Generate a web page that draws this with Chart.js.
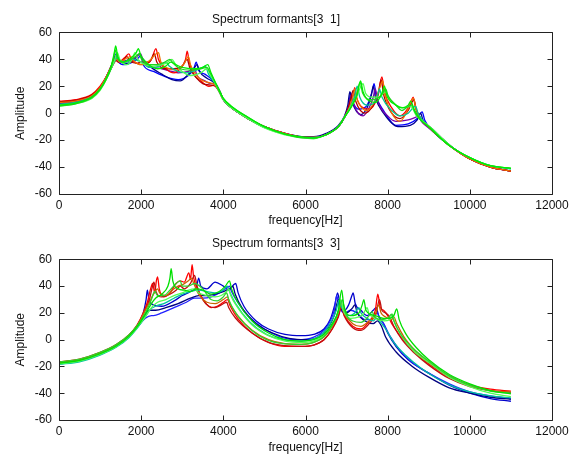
<!DOCTYPE html>
<html>
<head>
<meta charset="utf-8">
<script src="https://cdn.jsdelivr.net/npm/chart.js@4/dist/chart.umd.min.js"></script>
<style>
html,body{margin:0;padding:0;background:#fff;}
.box{position:absolute;left:0;width:577px;}
</style>
</head>
<body>
<div class="box" style="top:0;height:229px"><canvas id="c1" width="577" height="229"></canvas></div>
<div class="box" style="top:229px;height:228px"><canvas id="c2" width="577" height="228"></canvas></div>
<script>
// ---- axis ticks ----
const xTicks = [0, 2000, 4000, 6000, 8000, 10000, 12000];
const yTicks = [-60, -40, -20, 0, 20, 40, 60];
const titles = ['Spectrum formants[3  1]', 'Spectrum formants[3  3]'];

// ---- top panel series: [frequency Hz, amplitude] ----
const top1 = [[0,8],[400,9],[800,13],[1000,19],[1150,27],[1270,35],[1340,41],[1390,44],[1450,38],[1600,36],[1800,38],[1930,41],[1990,43],[2050,36],[2300,31],[2600,27],[2900,25],[3150,28],[3280,33],[3340,38],[3400,32],[3550,29],[3750,24],[3900,16],[4000,10],[4200,4],[4600,-4],[5000,-10],[5500,-15],[6000,-18],[6200,-18],[6500,-16],[6800,-10],[6950,-3],[7050,6],[7100,15],[7160,8],[7300,3],[7500,6],[7620,16],[7670,22],[7720,13],[7900,2],[8200,-9],[8500,-8],[8720,-4],[8840,1],[8900,-5],[9100,-13],[9300,-19],[9600,-26],[10000,-34],[10500,-40],[11000,-43]];
const top2 = [[0,7.5],[400,8.5],[800,12.5],[1000,18.5],[1150,26],[1280,34],[1360,40],[1410,43],[1470,39],[1650,37],[1800,39],[1960,44],[2020,41],[2200,35],[2500,29],[2750,25],[2950,24],[3150,29],[3300,34],[3360,36],[3420,31],[3600,26],[3760,23],[3900,17],[4000,10],[4200,4],[4600,-4],[5000,-10],[5500,-15],[6000,-17.5],[6200,-17.5],[6500,-15],[6800,-9],[6950,-2],[7030,6],[7080,16],[7140,8],[7350,-1],[7500,4],[7600,13],[7650,20],[7700,12],[7900,0],[8250,-10],[8550,-9],[8720,-5],[8800,0],[8860,-5],[9050,-12],[9300,-19],[9600,-26],[10000,-34],[10500,-40],[11000,-43]];
const top3 = [[0,7.5],[400,8.5],[800,12.5],[1000,18.5],[1150,26],[1280,34],[1380,42],[1450,38],[1620,39],[1700,40],[1850,41],[1990,44],[2050,38],[2300,34],[2500,33],[2750,31],[2900,30],[3150,31],[3300,33],[3360,28],[3550,24],[3700,22],[3800,22],[3920,16],[4000,10],[4200,4],[4600,-4],[5000,-10],[5500,-15],[6000,-18],[6200,-18],[6500,-16],[6800,-10],[6950,-3],[7050,5],[7120,14],[7170,7],[7400,-2],[7550,4],[7650,12],[7700,18],[7750,10],[8000,-2],[8200,-6],[8500,-5],[8680,-3],[8750,-2],[8820,-6],[9000,-11],[9200,-16],[9500,-24],[10000,-34],[10500,-40],[11000,-43]];
const top4 = [[0,9],[400,10],[800,14],[1000,20],[1150,27],[1280,34],[1420,40],[1500,39],[1620,42],[1700,44],[1760,40],[1900,37],[2050,36],[2250,40],[2360,48],[2420,40],[2600,33],[2800,30],[2950,33],[3080,40],[3120,46],[3170,38],[3300,28],[3450,24],[3650,20],[3800,21],[3900,16],[4000,10],[4200,4],[4600,-4],[5000,-10],[5500,-15],[6000,-18],[6200,-18],[6500,-16],[6800,-10],[6950,-3],[7080,5],[7150,12],[7200,19],[7250,11],[7400,4],[7550,3],[7750,12],[7860,27],[7920,16],[8100,4],[8300,-2],[8480,3],[8560,8],[8620,12],[8680,4],[8850,-6],[9000,-10],[9200,-16],[9500,-24],[10000,-34],[10500,-40],[11000,-43]];
const top5 = [[0,8.5],[400,9.5],[800,13.5],[1000,19],[1150,27],[1270,35],[1350,40],[1450,38],[1580,40],[1650,42],[1720,39],[1900,37],[2000,38],[2200,38],[2320,44],[2380,38],[2600,33],[2800,33],[3000,35],[3120,40],[3180,34],[3350,26],[3500,22],[3650,21],[3800,20],[3920,15],[4000,10],[4200,4],[4600,-4],[5000,-10.5],[5500,-15.5],[6000,-18],[6200,-18],[6500,-16],[6800,-10],[6950,-3],[7050,5],[7120,13],[7160,17],[7220,9],[7450,0],[7650,6],[7780,15],[7840,25],[7900,14],[8100,0],[8300,-4],[8500,2],[8590,8],[8640,10],[8700,2],[8900,-7],[9100,-12],[9300,-18],[9600,-26],[10000,-34],[10500,-40],[11000,-43]];
const top6 = [[0,8],[400,9],[800,13],[1000,19],[1150,27],[1280,35],[1400,40],[1480,38],[1650,41],[1750,42],[1820,39],[2000,36],[2200,39],[2420,45],[2480,38],[2700,33],[2850,32],[3050,37],[3150,42],[3200,36],[3350,28],[3450,25],[3600,23],[3800,21],[3920,16],[4000,10],[4200,4],[4600,-4],[5000,-10],[5500,-15],[6000,-18],[6200,-18],[6500,-16],[6800,-10],[6950,-3],[7080,5],[7160,13],[7200,18],[7260,10],[7500,2],[7700,10],[7820,20],[7880,24],[7940,13],[8100,0],[8300,-6],[8480,2],[8570,9],[8630,11],[8690,3],[8850,-6],[9000,-10],[9200,-16],[9500,-24],[10000,-34],[10500,-40],[11000,-43]];
const top7 = [[0,6.5],[400,8],[800,12],[1000,18],[1150,26],[1280,34],[1380,40],[1420,42],[1480,39],[1650,38],[1800,40],[2000,38],[2200,34],[2450,35],[2600,38],[2680,35],[2900,31],[3100,30],[3350,32],[3500,34],[3560,35],[3640,29],[3800,22],[3920,16],[4000,10],[4200,4],[4600,-4],[5000,-10.5],[5500,-15.5],[6000,-18],[6200,-18],[6500,-16],[6800,-10],[6950,-3],[7080,4],[7200,13],[7260,20],[7320,12],[7500,6],[7650,7],[7760,14],[7800,18],[7860,12],[8100,2],[8300,-2],[8500,0],[8620,4],[8680,5],[8740,0],[8900,-7],[9100,-12],[9300,-18],[9600,-26],[10000,-33],[10500,-39],[11000,-41.5]];
const top8 = [[0,5],[400,7],[800,11],[1000,17],[1150,25],[1270,33],[1360,40],[1420,45],[1480,40],[1650,36],[1780,40],[1850,45],[1920,40],[2100,36],[2300,35],[2600,37],[2750,40],[2820,37],[3000,31],[3200,28],[3450,30],[3600,33],[3680,29],[3850,19],[4000,10],[4200,4],[4600,-4],[5000,-11],[5500,-16],[6000,-18.5],[6200,-19],[6500,-16],[6800,-10],[6950,-3],[7100,5],[7250,13],[7400,22],[7460,15],[7600,12],[7800,12],[7950,16],[8020,12],[8200,6],[8400,4],[8560,5],[8700,-2],[8900,-7],[9100,-12],[9300,-18],[9600,-26],[10000,-33],[10500,-39],[11000,-41]];
const top9 = [[0,5.5],[400,7],[800,11.5],[1000,17.5],[1150,25],[1260,33],[1330,41],[1370,47],[1420,41],[1560,38],[1760,40],[1900,43],[1950,44],[2010,40],[2200,36],[2380,36],[2580,38],[2700,40],[2780,37],[2950,33],[3200,32],[3450,33],[3600,34],[3680,30],[3850,20],[4000,11],[4200,5],[4600,-3],[5000,-10],[5500,-15.5],[6000,-18.5],[6200,-18.5],[6500,-16],[6800,-10],[6950,-3],[7100,4],[7250,14],[7330,23],[7390,15],[7600,10],[7800,12],[7900,16],[7950,18],[8010,13],[8200,6],[8350,2],[8500,5],[8590,6],[8660,1],[8800,-5],[9000,-10],[9200,-16],[9500,-24],[10000,-33],[10500,-39],[11000,-41]];
const top10 = [[0,6],[400,7.5],[800,12],[1000,18],[1150,26],[1270,35],[1340,44],[1380,50],[1430,42],[1550,38],[1750,41],[1880,45],[1930,48],[1990,43],[2150,37],[2400,33],[2600,35],[2720,38],[2850,36],[3000,34],[3300,33],[3500,34],[3620,36],[3700,30],[3850,20],[4000,11],[4200,5],[4600,-3],[5000,-10],[5500,-15.5],[6000,-18],[6200,-18.5],[6500,-16],[6800,-10],[6950,-3],[7100,4],[7250,13],[7340,24],[7400,16],[7550,9],[7700,8],[7850,14],[7920,20],[7980,13],[8200,6],[8350,4],[8500,6],[8560,9],[8640,3],[8800,-5],[9000,-10],[9200,-16],[9500,-24],[10000,-33],[10500,-39],[11000,-41]];

// ---- bottom panel series ----
const bot1 = [[0,-17],[500,-15],[1000,-10],[1400,-4],[1700,3],[1900,10],[2050,20],[2120,30],[2150,37],[2190,30],[2300,26],[2500,25],[2800,29],[3000,33],[3200,36],[3350,40],[3400,46],[3450,40],[3600,38],[3800,43],[4000,40],[4150,37],[4250,41],[4300,42],[4360,35],[4500,25],[4800,14],[5100,8],[5500,4],[5900,3],[6200,4],[6450,8],[6600,15],[6720,27],[6780,35],[6840,27],[6950,22],[7050,26],[7130,33],[7160,35],[7210,27],[7350,22],[7500,18],[7650,22],[7720,24],[7780,18],[7900,12],[8000,5],[8200,-5],[8500,-15],[9000,-25],[9500,-34],[10000,-40],[10500,-44],[11000,-46]];
const bot2 = [[0,-18],[500,-16],[1000,-11],[1400,-5],[1700,2],[1900,9],[2100,16],[2250,18],[2300,18],[2500,20],[2800,24],[3100,28],[3300,31],[3500,31],[3700,32],[3900,35],[4050,38],[4150,40],[4200,36],[4350,28],[4600,18],[5000,8],[5400,2],[5800,0],[6200,2],[6450,7],[6600,14],[6700,22],[6760,33],[6820,25],[6950,20],[7100,22],[7250,20],[7450,15],[7600,15],[7750,20],[7800,16],[7900,12],[8050,3],[8300,-8],[8600,-17],[9000,-25],[9500,-33],[10000,-39],[10500,-42],[11000,-44]];
const bot3 = [[0,-17.5],[500,-15.5],[1000,-10.5],[1400,-4.5],[1700,2.5],[1900,9.5],[2080,18],[2200,22],[2350,22],[2600,24],[2900,27],[3200,31],[3400,33],[3600,33],[3800,34],[4000,36],[4150,38],[4230,40],[4290,34],[4450,24],[4800,12],[5200,5],[5600,1],[6000,0],[6300,2],[6550,9],[6700,18],[6800,30],[6850,24],[7000,20],[7150,24],[7200,26],[7260,20],[7450,14],[7650,12],[7750,14],[7850,10],[7950,2],[8200,-9],[8600,-20],[9000,-28],[9500,-36],[10000,-40],[10500,-43],[11000,-44.5]];
const bot4 = [[0,-16.5],[500,-14.5],[1000,-9.5],[1400,-3.5],[1700,3.5],[1900,11],[2050,20],[2150,28],[2230,38],[2280,42],[2330,35],[2370,44],[2400,47],[2440,38],[2550,32],[2700,35],[2850,42],[2950,44],[3050,43],[3160,50],[3200,45],[3240,56],[3280,46],[3400,36],[3550,28],[3700,24],[3850,25],[4000,28],[4100,30],[4170,25],[4350,16],[4700,5],[5100,-2],[5500,-5],[5900,-5],[6200,-4],[6450,0],[6650,8],[6800,18],[6880,25],[6950,18],[7150,10],[7350,8],[7550,14],[7700,22],[7760,34],[7820,24],[7900,22],[8000,18],[8100,12],[8300,3],[8600,-8],[9000,-18],[9500,-28],[10000,-34],[10500,-37],[11000,-38.5]];
const bot5 = [[0,-17],[500,-15],[1000,-10],[1400,-4],[1700,3],[1900,10.5],[2050,19],[2200,30],[2260,38],[2310,43],[2360,36],[2500,32],[2700,34],[2850,37],[2950,40],[3050,38],[3200,42],[3300,48],[3360,40],[3500,30],[3650,25],[3800,24],[3950,26],[4080,28],[4130,24],[4300,16],[4700,5],[5100,-2],[5500,-4.5],[5900,-5],[6200,-4],[6450,0],[6650,8],[6800,17],[6870,24],[6940,18],[7150,9],[7350,7],[7550,12],[7720,20],[7800,30],[7860,22],[7950,20],[8050,17],[8150,10],[8350,0],[8650,-10],[9000,-19],[9500,-29],[10000,-35],[10500,-38],[11000,-39.5]];
const bot6 = [[0,-17],[500,-15],[1000,-10],[1400,-4],[1700,3],[1900,10],[2050,19],[2200,28],[2300,34],[2400,38],[2450,35],[2600,33],[2800,38],[2900,40],[3000,41],[3150,44],[3220,46],[3280,42],[3400,34],[3600,28],[3800,27],[4000,30],[4100,32],[4160,27],[4350,18],[4700,7],[5100,0],[5500,-3],[5900,-3.5],[6200,-2],[6450,2],[6650,10],[6800,20],[6870,27],[6940,20],[7150,12],[7350,10],[7550,14],[7700,18],[7780,26],[7840,20],[7950,17],[8100,15],[8150,17],[8220,12],[8400,2],[8700,-9],[9000,-17],[9500,-27],[10000,-34],[10500,-38],[11000,-39]];
const bot7 = [[0,-18.5],[500,-16.5],[1000,-11.5],[1400,-5.5],[1700,1.5],[1900,8.5],[2100,17],[2200,22],[2350,25],[2550,27],[2800,31],[3000,34],[3200,36],[3400,37],[3600,36],[3800,35],[4000,37],[4100,40],[4150,36],[4300,27],[4650,13],[5050,4],[5450,0],[5850,-1],[6150,0],[6400,4],[6600,12],[6750,22],[6820,30],[6880,24],[7050,18],[7200,20],[7300,24],[7350,20],[7500,16],[7650,14],[7720,16],[7800,14],[7950,8],[8150,-2],[8450,-12],[8800,-21],[9200,-29],[9600,-35],[10000,-39],[10500,-42],[11000,-43.5]];
const bot8 = [[0,-18],[500,-16],[1000,-11],[1400,-5],[1700,2],[1900,9],[2100,17],[2250,24],[2400,28],[2600,30],[2800,33],[3000,35],[3150,37],[3300,38],[3400,35],[3600,33],[3800,32],[3950,33],[4080,36],[4130,38],[4180,33],[4350,24],[4700,11],[5100,3],[5500,-1],[5900,-2],[6200,-1],[6450,3],[6650,11],[6800,21],[6860,30],[6920,22],[7100,16],[7300,17],[7400,19],[7500,24],[7540,20],[7700,16],[7900,14],[8050,15],[8120,19],[8170,13],[8350,2],[8650,-9],[9000,-17],[9500,-28],[10000,-35],[10500,-40],[11000,-42.5]];
const bot9 = [[0,-16.5],[500,-14.5],[1000,-9.5],[1400,-3.5],[1700,3.5],[1900,10.5],[2100,20],[2250,30],[2330,36],[2400,33],[2550,33],[2700,37],[2850,42],[2950,44],[3000,40],[3150,40],[3300,42],[3500,38],[3700,30],[3850,29],[4000,32],[4080,35],[4130,30],[4300,20],[4650,8],[5050,0],[5450,-3],[5850,-3.5],[6150,-2.5],[6400,1],[6600,8],[6750,17],[6850,26],[6900,30],[6950,22],[7150,14],[7350,13],[7550,18],[7620,21],[7680,17],[7850,15],[8000,16],[8100,19],[8150,14],[8300,5],[8600,-6],[9000,-16],[9500,-27],[10000,-34],[10500,-38.5],[11000,-40]];
const bot10 = [[0,-17.5],[500,-15.5],[1000,-10.5],[1400,-4.5],[1700,2.5],[1900,9.5],[2100,19],[2250,27],[2350,31],[2500,34],[2650,40],[2700,46],[2730,53],[2770,44],[2900,38],[3050,37],[3200,36],[3350,38],[3500,37],[3700,34],[3900,36],[4050,40],[4150,44],[4200,38],[4350,28],[4700,14],[5100,5],[5500,0],[5900,-1],[6200,0],[6450,4],[6650,12],[6800,22],[6880,37],[6930,26],[7100,18],[7300,20],[7380,26],[7420,30],[7470,22],[7700,18],[7900,16],[8050,16],[8150,18],[8220,23],[8280,15],[8450,4],[8700,-6],[9000,-15],[9500,-26],[10000,-33],[10500,-38],[11000,-40.5]];

const topSeries = [top1, top2, top3, top4, top5, top6, top7, top8, top9, top10];
const botSeries = [bot1, bot2, bot3, bot4, bot5, bot6, bot7, bot8, bot9, bot10];
const topColors = ['#0000ff','#000090','#7a00a8','#ff0000','#b00000','#f07000','#00c890','#50ff50','#20d020','#00ee00'];
const botColors = ['#0000cc','#2020ff','#000080','#ff0000','#c01010','#c86400','#00c0a0','#50ff50','#30d030','#00e000'];

const FONT = '"Liberation Sans", Arial, sans-serif';

const matlabBox = {
  id: 'matlabBox',
  afterDatasetsDraw(chart) {
    const {ctx, chartArea: a, scales} = chart;
    ctx.save();
    ctx.strokeStyle = '#222';
    ctx.lineWidth = 1;
    const L = Math.round(a.left) + 0.5, R = Math.round(a.right) + 0.5;
    const T = Math.round(a.top) + 0.5, B = Math.round(a.bottom) + 0.5;
    ctx.beginPath();
    ctx.rect(L, T, R - L, B - T);
    const tl = 5;
    scales.x.ticks.forEach(t => {
      const px = Math.round(scales.x.getPixelForValue(t.value)) + 0.5;
      ctx.moveTo(px, B); ctx.lineTo(px, B - tl);
      ctx.moveTo(px, T); ctx.lineTo(px, T + tl);
    });
    scales.y.ticks.forEach(t => {
      const py = Math.round(scales.y.getPixelForValue(t.value)) + 0.5;
      ctx.moveTo(L, py); ctx.lineTo(L + tl, py);
      ctx.moveTo(R, py); ctx.lineTo(R - tl, py);
    });
    ctx.stroke();
    ctx.restore();
  }
};

function makeChart(id, series, colors, title, geo) {
  const n = series.length;
  const datasets = series.map((s, i) => ({
    data: s.map(p => ({x: p[0], y: p[1]})),
    borderColor: colors[i],
    borderWidth: 1.3,
    pointRadius: 0,
    fill: false,
    order: n - 1 - i,
    cubicInterpolationMode: 'monotone'
  }));
  return new Chart(document.getElementById(id), {
    type: 'line',
    data: {datasets},
    options: {
      responsive: false,
      animation: false,
      layout: {padding: {left: 0, right: 25, top: 0, bottom: 0}},
      plugins: {
        legend: {display: false},
        tooltip: {enabled: false},
        title: {
          display: true, text: title, color: '#111',
          font: {family: FONT, size: 12, weight: 'normal'},
          padding: {top: geo.titleTop, bottom: geo.titleBottom}
        }
      },
      scales: {
        x: {
          type: 'linear', min: xTicks[0], max: xTicks[xTicks.length - 1],
          afterBuildTicks: s => { s.ticks = xTicks.map(v => ({value: v})); },
          afterFit: s => { s.height = geo.xHeight; },
          grid: {display: false, drawTicks: false},
          border: {display: false},
          ticks: {color: '#111', padding: 4, maxRotation: 0, autoSkip: false,
                  font: {family: FONT, size: 12}, callback: v => String(v)},
          title: {display: true, text: 'frequency[Hz]', color: '#111',
                  font: {family: FONT, size: 12}, padding: {top: 0, bottom: geo.xTitlePad}}
        },
        y: {
          type: 'linear', min: yTicks[0], max: yTicks[yTicks.length - 1],
          afterBuildTicks: s => { s.ticks = yTicks.map(v => ({value: v})); },
          afterFit: s => { s.width = 59; },
          grid: {display: false, drawTicks: false},
          border: {display: false},
          ticks: {color: '#111', padding: 7, autoSkip: false,
                  font: {family: FONT, size: 12}, callback: v => String(v)},
          title: {display: true, text: 'Amplitude', color: '#111',
                  font: {family: FONT, size: 12}, padding: {top: 13, bottom: 0}}
        }
      }
    },
    plugins: [matlabBox]
  });
}

makeChart('c1', topSeries, topColors, titles[0], {titleTop: 12, titleBottom: 6, xHeight: 35, xTitlePad: 1});
makeChart('c2', botSeries, botColors, titles[1], {titleTop: 7, titleBottom: 9, xHeight: 37, xTitlePad: 2});
</script>
</body>
</html>
